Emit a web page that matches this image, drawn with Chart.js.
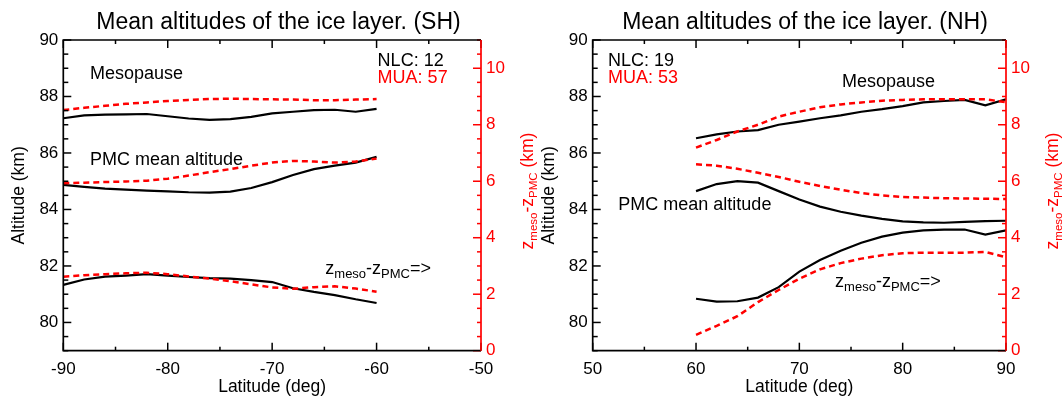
<!DOCTYPE html>
<html>
<head>
<meta charset="utf-8">
<script src="https://cdn.jsdelivr.net/npm/chart.js@4.4.1/dist/chart.umd.min.js"></script>
<style>
  html, body { margin: 0; padding: 0; background: #fff; }
  #wrap { position: relative; width: 1064px; height: 397px; overflow: hidden; background: #fff; }
  canvas { position: absolute; top: 0; }
</style>
</head>
<body>
<div id="wrap">
  <canvas id="sh" width="557" height="397" style="left:0px"></canvas>
  <canvas id="nh" width="550" height="397" style="left:530px"></canvas>
</div>
<script>
// ---------------- DATA ----------------
const latSH = [-90,-88,-86,-84,-82,-80,-78,-76,-74,-72,-70,-68,-66,-64,-62,-60];
const shMesoNLC = [87.23,87.33,87.36,87.37,87.38,87.30,87.22,87.17,87.20,87.28,87.40,87.46,87.52,87.53,87.46,87.56];
const shMesoMUA = [87.52,87.60,87.67,87.74,87.79,87.84,87.88,87.91,87.92,87.91,87.90,87.89,87.87,87.87,87.89,87.91];
const shPmcNLC  = [84.87,84.80,84.74,84.70,84.67,84.64,84.61,84.60,84.63,84.76,84.97,85.22,85.43,85.55,85.66,85.86];
const shPmcMUA  = [84.93,84.95,84.97,84.99,85.02,85.09,85.20,85.32,85.43,85.55,85.66,85.72,85.70,85.66,85.70,85.80];
const shDiffNLC = [2.33,2.52,2.62,2.66,2.71,2.66,2.61,2.57,2.55,2.50,2.43,2.21,2.08,1.97,1.82,1.69];
const shDiffMUA = [2.62,2.67,2.71,2.74,2.76,2.71,2.63,2.55,2.46,2.35,2.24,2.19,2.25,2.28,2.20,2.09];

const latNH = [60,62,64,66,68,70,72,74,76,78,80,82,84,86,88,90];
const nhMesoNLC = [86.52,86.66,86.76,86.81,87.00,87.11,87.23,87.33,87.46,87.55,87.66,87.79,87.84,87.88,87.69,87.90];
const nhMesoMUA = [86.19,86.46,86.76,87.00,87.29,87.46,87.62,87.72,87.79,87.85,87.88,87.90,87.90,87.90,87.90,87.80];
const nhPmcNLC  = [84.65,84.90,85.00,84.95,84.65,84.35,84.10,83.92,83.78,83.67,83.58,83.54,83.53,83.56,83.59,83.60];
const nhPmcMUA  = [85.60,85.55,85.44,85.30,85.15,84.98,84.83,84.70,84.58,84.50,84.44,84.42,84.40,84.39,84.38,84.37];
const nhDiffNLC = [1.84,1.74,1.75,1.88,2.25,2.80,3.21,3.54,3.82,4.04,4.18,4.26,4.29,4.29,4.11,4.26];
const nhDiffMUA = [0.56,0.88,1.22,1.72,2.15,2.55,2.88,3.10,3.26,3.38,3.45,3.47,3.47,3.47,3.50,3.31];

const shXTicks = [-90,-80,-70,-60,-50];
const nhXTicks = [50,60,70,80,90];
const altTicks = [80,82,84,86,88,90];
const diffTicks = [0,2,4,6,8,10];

const countSH = { nlc: 12, mua: 57 };
const countNH = { nlc: 19, mua: 53 };

// ---------------- STYLE ----------------
const FONT = '"Liberation Sans", Arial, Helvetica, sans-serif';
const RED = '#ff0000';
const BLACK = '#000000';

function pts(xs, ys) { return xs.map((x, i) => ({ x: x, y: ys[i] })); }

function series(xs, ys, isMUA, axis) {
  return {
    data: pts(xs, ys),
    yAxisID: axis,
    borderColor: isMUA ? RED : BLACK,
    borderWidth: isMUA ? 2.5 : 2.2,
    borderDash: isMUA ? [6, 4] : [],
    pointRadius: 0,
    tension: 0,
    fill: false,
    order: isMUA ? 0 : 1
  };
}

function drawRich(ctx, segs, x, y, size, subSize, color) {
  let cx = x;
  ctx.fillStyle = color;
  ctx.textBaseline = 'alphabetic';
  ctx.textAlign = 'left';
  for (const s of segs) {
    ctx.font = (s.sub ? subSize : size) + 'px ' + FONT;
    ctx.fillText(s.t, cx, s.sub ? y + 4 : y);
    cx += ctx.measureText(s.t).width;
  }
  return cx - x;
}
function richWidth(ctx, segs, size, subSize) {
  let w = 0;
  for (const s of segs) {
    ctx.font = (s.sub ? subSize : size) + 'px ' + FONT;
    w += ctx.measureText(s.t).width;
  }
  return w;
}

function tickLine(ctx, x1, y1, x2, y2) {
  ctx.beginPath(); ctx.moveTo(x1, y1); ctx.lineTo(x2, y2); ctx.stroke();
}

const framePlugin = {
  id: 'frame',
  afterDraw(chart, args, opts) {
    const ctx = chart.ctx;
    const a = chart.chartArea;
    const xs = chart.scales.x, ys = chart.scales.y, y2 = chart.scales.y2;
    ctx.save();
    ctx.setLineDash([]);
    ctx.lineCap = 'butt';
    ctx.strokeStyle = BLACK;
    ctx.lineWidth = 1.5;
    // x ticks (top & bottom), inward
    for (let k = 0; k <= 8; k++) {
      const v = xs.min + k * 5;
      const px = xs.getPixelForValue(v);
      const len = (k % 2 === 0) ? 8 : 4;
      tickLine(ctx, px, a.bottom, px, a.bottom - len);
      tickLine(ctx, px, a.top, px, a.top + len);
    }
    // left y ticks
    for (let k = 0; k <= 22; k++) {
      const v = ys.min + k * 0.5;
      const py = ys.getPixelForValue(v);
      const len = ((k - 2) % 4 === 0) ? 8 : 5;
      tickLine(ctx, a.left, py, a.left + len, py);
    }
    // right y2 ticks
    ctx.strokeStyle = RED;
    for (let k = 0; k <= 22; k++) {
      const v = y2.min + k * 0.5;
      const py = y2.getPixelForValue(v);
      const len = (k % 4 === 0) ? 8 : 4;
      tickLine(ctx, a.right, py, a.right - len, py);
    }
    // frame
    ctx.lineWidth = 1.7;
    ctx.strokeStyle = BLACK;
    ctx.beginPath();
    ctx.moveTo(a.right, a.top); ctx.lineTo(a.left, a.top); ctx.lineTo(a.left, a.bottom); ctx.lineTo(a.right, a.bottom);
    ctx.stroke();
    ctx.strokeStyle = RED;
    tickLine(ctx, a.right, a.top, a.right, a.bottom);

    // annotations in data coordinates
    for (const n of opts.notes || []) {
      const px = xs.getPixelForValue(n.x);
      const py = ys.getPixelForValue(n.y);
      drawRich(ctx, n.segs, px, py, 18, 13, n.color || BLACK);
    }

    // right axis title (rotated, with subscripts)
    const segs = [{t:'z'},{t:'meso',sub:true},{t:'-z'},{t:'PMC',sub:true},{t:' (km)'}];
    const w = richWidth(ctx, segs, 17.5, 11.5);
    ctx.translate(a.right + 52, 191);
    ctx.rotate(-Math.PI / 2);
    drawRich(ctx, segs, -w / 2, 0, 17.5, 11.5, RED);
    ctx.restore();
  }
};

function makeChart(id, title, lat, meso, mesoM, pmc, pmcM, diff, diffM, xMin, xMax, xTicks, leftW, rightW, notes) {
  const ZM = [{t:'z'},{t:'meso',sub:true},{t:'-z'},{t:'PMC',sub:true},{t:'=>'}];
  return new Chart(document.getElementById(id), {
    type: 'line',
    data: {
      datasets: [
        series(lat, mesoM, true, 'y'),
        series(lat, pmcM, true, 'y'),
        series(lat, diffM, true, 'y2'),
        series(lat, meso, false, 'y'),
        series(lat, pmc, false, 'y'),
        series(lat, diff, false, 'y2')
      ]
    },
    options: {
      responsive: false,
      animation: false,
      events: [],
      layout: { padding: 0 },
      plugins: {
        legend: { display: false },
        tooltip: { enabled: false },
        title: {
          display: true,
          text: title,
          color: BLACK,
          font: { family: FONT, size: 23, weight: 'normal' },
          padding: { top: 9, bottom: 3.4 }
        },
        frame: { notes: notes.map(n => n.zm ? Object.assign({}, n, { segs: ZM }) : n) }
      },
      scales: {
        x: {
          type: 'linear',
          min: xMin, max: xMax,
          grid: { display: false, drawTicks: false },
          border: { display: false },
          afterBuildTicks: s => { s.ticks = xTicks.map(v => ({ value: v })); },
          afterFit: s => { s.height = 46.3; },
          ticks: { color: BLACK, padding: 8, font: { family: FONT, size: 17 }, maxRotation: 0, autoSkip: false,
                   callback: v => String(v) },
          title: { display: true, text: 'Latitude (deg)', color: BLACK, font: { family: FONT, size: 17.5 }, padding: { top: 0, bottom: -1 } }
        },
        y: {
          type: 'linear', position: 'left',
          min: 79, max: 90,
          grid: { display: false, drawTicks: false },
          border: { display: false },
          afterBuildTicks: s => { s.ticks = altTicks.map(v => ({ value: v })); },
          afterFit: s => { s.width = leftW; },
          ticks: { color: BLACK, padding: 5, font: { family: FONT, size: 17 }, autoSkip: false,
                   callback: v => String(v) },
          title: { display: true, text: 'Altitude (km)', color: BLACK, font: { family: FONT, size: 17.5 }, padding: { top: 9, bottom: 0 } }
        },
        y2: {
          type: 'linear', position: 'right',
          min: 0, max: 11,
          grid: { display: false, drawTicks: false },
          border: { display: false },
          afterBuildTicks: s => { s.ticks = diffTicks.map(v => ({ value: v })); },
          afterFit: s => { s.width = rightW; },
          ticks: { color: RED, padding: 5, font: { family: FONT, size: 17 }, autoSkip: false,
                   callback: v => String(v) }
        }
      }
    },
    plugins: [framePlugin]
  });
}

makeChart('sh', 'Mean altitudes of the ice layer. (SH)', latSH,
  shMesoNLC, shMesoMUA, shPmcNLC, shPmcMUA, shDiffNLC, shDiffMUA,
  -90, -50, shXTicks, 63.3, 557 - 481,
  [
    { x: -87.44, y: 88.62, segs: [{t:'Mesopause'}] },
    { x: -87.44, y: 85.58, segs: [{t:'PMC mean altitude'}] },
    { x: -64.91, y: 81.72, zm: true },
    { x: -59.9, y: 89.09, segs: [{t:'NLC: ' + countSH.nlc}] },
    { x: -59.9, y: 88.47, segs: [{t:'MUA: ' + countSH.mua}], color: RED }
  ]);

makeChart('nh', 'Mean altitudes of the ice layer. (NH)', latNH,
  nhMesoNLC, nhMesoMUA, nhPmcNLC, nhPmcMUA, nhDiffNLC, nhDiffMUA,
  50, 90, nhXTicks, 62.7, 550 - 476,
  [
    { x: 74.13, y: 88.33, segs: [{t:'Mesopause'}] },
    { x: 52.48, y: 83.98, segs: [{t:'PMC mean altitude'}] },
    { x: 73.46, y: 81.25, zm: true },
    { x: 51.48, y: 89.09, segs: [{t:'NLC: ' + countNH.nlc}] },
    { x: 51.48, y: 88.47, segs: [{t:'MUA: ' + countNH.mua}], color: RED }
  ]);
</script>
</body>
</html>
